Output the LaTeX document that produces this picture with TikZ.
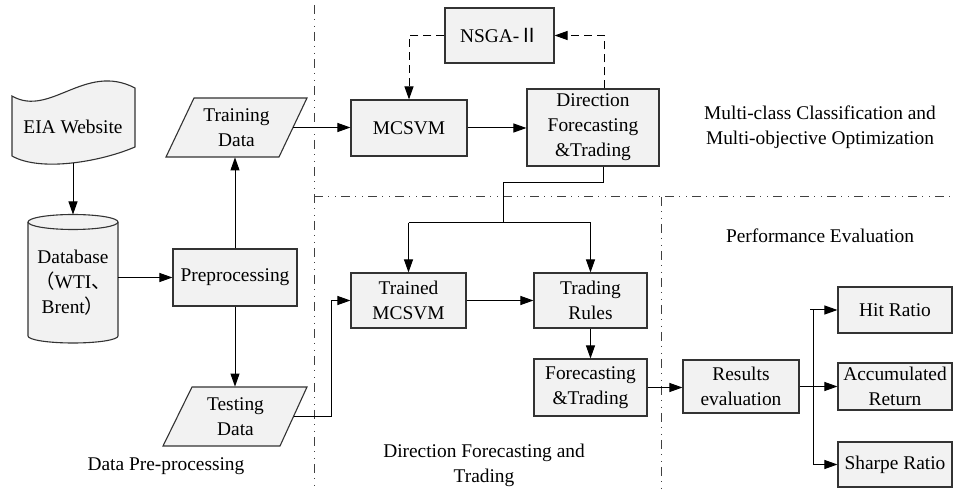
\documentclass[tikz,border=0pt]{standalone}
\usepackage{fontspec}
\setmainfont{Liberation Serif}
\newfontfamily\cjk{Noto Sans CJK SC}
\usetikzlibrary{arrows.meta}
\definecolor{boxfill}{HTML}{F2F2F2}
\definecolor{boxline}{HTML}{333333}
\definecolor{sepline}{HTML}{404040}
\tikzset{
  box/.style={draw=boxline, fill=boxfill, line width=0.55pt, align=center, inner sep=0pt},
  shapeline/.style={draw=boxline, fill=boxfill, line width=0.55pt},
  conn/.style={line width=0.5pt},
  arr/.style={conn, -{Triangle[length=6.5pt,width=4.5pt]}},
  dasharr/.style={arr, dash pattern=on 4pt off 2.5pt},
  sepl/.style={draw=sepline, line width=0.5pt, dash pattern=on 4.5pt off 2.5pt on 0.5pt off 3pt on 0.5pt off 2.5pt},
  lbl/.style={align=center, inner sep=0pt},
}
\begin{document}
\begin{tikzpicture}[x=0.5pt, y=-0.5pt, font=\fontsize{9.7pt}{12.5pt}\selectfont]
\useasboundingbox (0,0) rectangle (955,491);

% separators
\draw[sepl] (314,5) -- (314,491);
\draw[sepl] (314,197) -- (955,197);
\draw[sepl] (661,197) -- (661,491);

% EIA Website (tape shape)
\path[shapeline] (12,96) .. controls (50,118) and (85,62) .. (135,88) -- (135,147)
   .. controls (100,162) and (40,172) .. (12,156) -- cycle;
\node[lbl] (eia) at (73,127) {EIA Website};
\coordinate (eiab) at (73,163);

% Database cylinder
\path[shapeline] (28,222) -- (28,336) arc[start angle=180, end angle=360, x radius=22.5pt, y radius=3.5pt]
   -- (118,222) arc[start angle=0, end angle=180, x radius=22.5pt, y radius=3.75pt] -- cycle;
\draw[draw=boxline, line width=0.55pt] (118,222) arc[start angle=0, end angle=-180, x radius=22.5pt, y radius=3.75pt];
\node[lbl, minimum width=45pt] (db) at (73,283) {Database\\{\cjk （}WTI{\cjk 、}\\Brent{\cjk ）}};
\coordinate (dbtop) at (73,214.5);

% Preprocessing
\node[box, minimum width=62pt, minimum height=28.5pt] (prep) at (235,277.5) {Preprocessing};

% Training Data parallelogram
\path[shapeline] (194,98) -- (307,98) -- (279,157) -- (166,157) -- cycle;
\node[lbl, minimum width=56.5pt, minimum height=29.5pt] (train) at (236.5,127.5) {Training\\Data};

% Testing Data parallelogram
\path[shapeline] (192,387) -- (307,387) -- (280,446) -- (163,446) -- cycle;
\node[lbl, minimum width=58pt, minimum height=29.5pt] (test) at (235.5,416.5) {Testing\\Data};

% upper section
\node[box, minimum width=58pt, minimum height=28pt] (mcsvm) at (409,128) {MCSVM};
\node[box, minimum width=66pt, minimum height=38.5pt] (dft) at (593,127.5) {Direction\\Forecasting\\\&Trading};
\node[box, minimum width=54.5pt, minimum height=27.5pt] (nsga) at (499.5,35.5) {NSGA-{\cjk Ⅱ}};

% middle section
\node[box, minimum width=57.5pt, minimum height=27.5pt] (trained) at (408.5,300.5) {Trained\\MCSVM};
\node[box, minimum width=56.5pt, minimum height=27.5pt] (rules) at (590.5,300.5) {Trading\\Rules};
\node[box, minimum width=56.5pt, minimum height=28.5pt] (ft) at (590.5,387.5) {Forecasting\\\&Trading};

% right section
\node[box, minimum width=58pt, minimum height=26.5pt] (results) at (741,386.5) {Results\\evaluation};
\node[box, minimum width=57pt, minimum height=23pt] (hit) at (895,310) {Hit Ratio};
\node[box, minimum width=57pt, minimum height=23.5pt] (acc) at (895,386.5) {Accumulated\\Return};
\node[box, minimum width=57pt, minimum height=22.5pt] (sharpe) at (895,464.5) {Sharpe Ratio};

% labels
\node[lbl] (l1) at (166,466) {Data Pre-processing};
\node[lbl] (l2) at (484,465) {Direction Forecasting and\\Trading};
\node[lbl] (l3) at (820,236) {Performance Evaluation};
\node[lbl] (l4) at (820,127) {Multi-class Classification and\\Multi-objective Optimization};

% connectors
\draw[arr] (eiab) -- (dbtop);
\draw[arr] (db.east |- prep.west) -- (prep.west);
\draw[arr] (prep.north) -- (prep.north |- train.south);
\draw[arr] (prep.south) -- (prep.south |- test.north);
\draw[arr] (train.east) -- (train.east -| mcsvm.west);
\draw[arr] (mcsvm.east) -- (mcsvm.east -| dft.west);
\draw[dasharr] (nsga.west) -| (mcsvm.north);
\coordinate (dftn) at ([xshift=5.5pt]dft.north);
\coordinate (dfts) at ([xshift=5pt]dft.south);
\draw[dasharr] (dftn) |- (nsga.east);

\coordinate (k1) at (603,183);
\coordinate (k2) at (503,183);
\coordinate (k3) at (503,223);
\draw[conn] (dfts) -- (k1) -- (k2) -- (k3);
\draw[conn] (k3 -| trained.north) -- (k3 -| rules.north);
\draw[arr] (k3 -| trained.north) -- (trained.north);
\draw[arr] (k3 -| rules.north) -- (rules.north);

\coordinate (tk) at (331,416.5);
\draw[arr] (test.east) -- (tk) |- (trained.west);
\draw[arr] (trained.east) -- (trained.east -| rules.west);
\draw[arr] (rules.south) -- (ft.north);
\draw[arr] (ft.east) -- (ft.east -| results.west);

\coordinate (br) at (813,386.5);
\draw[arr] (results.east) -- (acc.west);
\draw[conn] (br |- hit.west) -- (br |- sharpe.west);
\draw[arr] ([xshift=-1.5pt]br |- hit.west) -- (hit.west);
\draw[arr] (br |- sharpe.west) -- (sharpe.west);
\end{tikzpicture}
\end{document}
